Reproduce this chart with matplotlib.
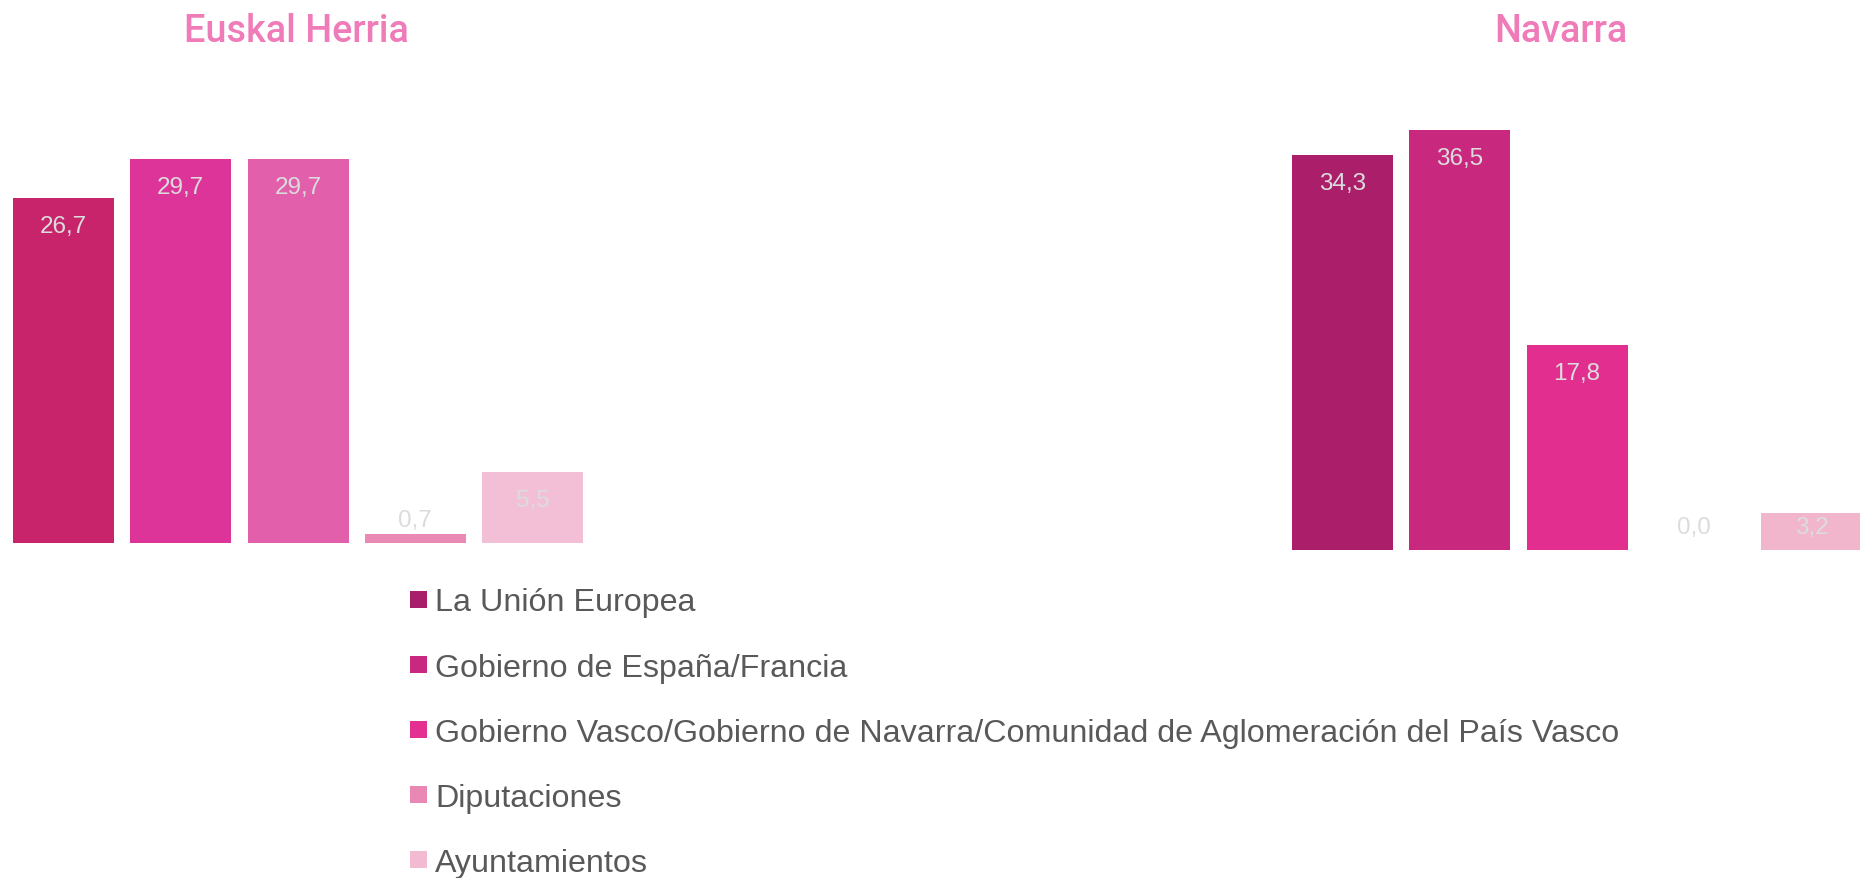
import matplotlib.pyplot as plt
from matplotlib.patches import Rectangle
import numpy as np

# ── Data ────────────────────────────────────────────────────────────────────
CATEGORIES = [
    "La Unión Europea",
    "Gobierno de España/Francia",
    "Gobierno Vasco/Gobierno de Navarra/Comunidad de Aglomeración del País Vasco",
    "Diputaciones",
    "Ayuntamientos",
]
EUSKAL_HERRIA = [26.7, 29.7, 29.7, 0.7, 5.5]
NAVARRA = [34.3, 36.5, 17.8, 0.0, 3.2]

PANEL_TITLES = ["Euskal Herria", "Navarra"]

# ── Styles ──────────────────────────────────────────────────────────────────
EH_COLORS = ["#C8246C", "#DD3499", "#E25FAB", "#EA8AB4", "#F2BFD6"]
NAV_COLORS = ["#AA1E6A", "#C9287F", "#E22E8F", "#EA8AB4", "#F1B6CC"]
LEGEND_COLORS = ["#A91E69", "#C92880", "#E32F90", "#E989B3", "#F2BBD1"]
TITLE_COLOR = "#EF7BB9"
LABEL_COLOR = "#DCDCDC"
LEGEND_TEXT = "#595959"

W, H = 1860, 879
DPI = 100
PX2PT = 72 / DPI

fig = plt.figure(figsize=(W / DPI, H / DPI), dpi=DPI)


def px_axes(x0, x1, ytop, ybot):
    return fig.add_axes([x0 / W, 1 - ybot / H, (x1 - x0) / W, (ybot - ytop) / H])


PITCH = 117.25
BAR_W = 101 / PITCH

# (axes px extents, first bar centre px, px per unit, title centre px)
panels = [
    (EUSKAL_HERRIA, EH_COLORS, (0, 620, 60, 544), 63.5, 12.93, 296),
    (NAVARRA, NAV_COLORS, (1240, 1860, 60, 551), 1342.5, 11.52, 1561),
]

for (vals, cols, (x0, x1, yt, yb), c0, scale, tx), title in zip(panels, PANEL_TITLES):
    ax = px_axes(x0, x1, yt, yb)
    xs = np.arange(len(vals))
    ax.bar(xs, vals, width=BAR_W, color=cols, linewidth=0)
    ax.set_xlim((x0 - c0) / PITCH, (x1 - c0) / PITCH)
    ax.set_ylim(0, (yb - yt) / scale)
    ax.axis("off")

    # value labels: inside the top of the bar, or just above the axis if too short
    for x, v in zip(xs, vals):
        h_px = v * scale
        lab = f"{v:.1f}".replace(".", ",")
        if h_px - 34.5 >= 16.5:
            xy, off = (x, v), -34.5
        else:
            xy, off = (x, 0), 16.5
        ax.annotate(lab, xy=xy, xytext=(0, off * PX2PT), textcoords="offset points",
                    ha="center", va="baseline", fontsize=17.5,
                    family="Liberation Sans", color=LABEL_COLOR)

    fig.text(tx / W, 1 - 42 / H, title, ha="center", va="baseline",
             fontsize=27.3, family="Roboto", fontweight="medium",
             color=TITLE_COLOR)

# ── Legend (manual, one row per category) ───────────────────────────────────
SQ = 17
for i, (lab, col) in enumerate(zip(CATEGORIES, LEGEND_COLORS)):
    base = 611.5 + 65.2 * i
    cy = base - 11.5
    fig.add_artist(Rectangle((410 / W, 1 - (cy + SQ / 2) / H), SQ / W, SQ / H,
                             transform=fig.transFigure, color=col, linewidth=0))
    fig.text(435 / W, 1 - base / H, lab, ha="left", va="baseline",
             fontsize=23.2, family="Liberation Sans", color=LEGEND_TEXT)

fig.savefig("out.png", dpi=DPI)
